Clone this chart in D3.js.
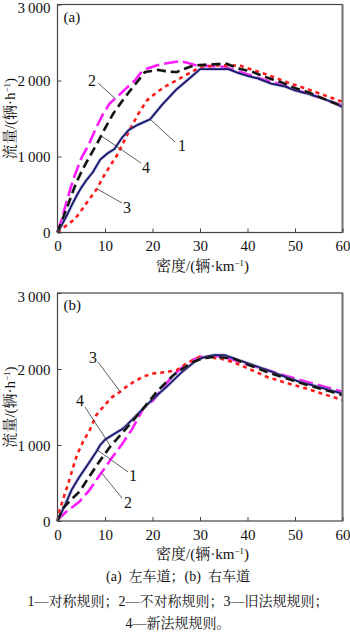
<!DOCTYPE html>
<html>
<head>
<meta charset="utf-8">
<script src="https://cdn.jsdelivr.net/npm/d3@7"></script>
<style>
  body { margin: 0; background: #fff; }
  svg { display: block; }
</style>
</head>
<body>
<div id="chart-area"></div>
<script>
// density (veh/km), flow (veh/h)
var xTicks = [0, 10, 20, 30, 40, 50, 60];
var yTicks = [0, 1000, 2000, 3000];

// (a) left lane
var aSym = [[0,0],[1,110],[2,230],[3,360],[4,480],[5,590],[6,680],[7.5,800],[9,960],[10.5,1040],[12,1100],[13.5,1240],[15,1350],[17,1420],[19.5,1490],[22,1680],[25,1880],[28,2040],[30,2150],[33,2150],[36,2150],[38,2100],[40,2060],[42,2030],[45,1960],[48,1920],[50,1870],[53,1820],[56,1760],[58,1710],[60,1650]];
var aAsym = [[0,0],[0.9,180],[1.9,400],[2.6,553],[3.8,780],[5.1,991],[6.5,1145],[8,1360],[9.6,1561],[11,1700],[12.5,1780],[14.5,1900],[16.3,2000],[17.5,2100],[18.8,2154],[21,2200],[23,2228],[25.8,2254],[27.5,2230],[29.3,2197],[32,2190],[35,2180],[38,2120],[41,2060],[44,2000],[47,1950],[50,1880],[53,1820],[56,1760],[60,1670]];
var aOld = [[0,0],[1.6,79],[3.7,180],[5,290],[6.5,421],[8.3,575],[9.6,728],[11,870],[12.5,1013],[14,1200],[15.3,1364],[17,1560],[18.8,1737],[21,1850],[23,1934],[25,2000],[26.8,2066],[28.5,2120],[30,2175],[34,2200],[38.4,2197],[41,2140],[44,2080],[48.3,1978],[52,1900],[56,1810],[60,1720]];
var aNew = [[0,0],[1.2,200],[2.3,377],[3,500],[4,662],[5.2,820],[6.5,970],[8.3,1167],[10,1370],[11.7,1561],[13.5,1720],[15.3,1868],[17,2000],[18.4,2110],[21.2,2140],[23,2120],[25.1,2110],[27,2160],[28.6,2197],[32,2210],[35.6,2220],[38,2160],[41.2,2110],[44,2040],[47,1980],[50,1900],[53,1840],[56,1760],[60,1660]];

// (b) right lane
var bSym = [[0,0],[0.5,63],[1.5,200],[3,413],[4.5,570],[6.1,718],[7.2,820],[8.2,915],[9,1000],[10,1070],[11.8,1140],[13.9,1220],[15.5,1320],[17.4,1439],[20,1600],[23,1767],[26,1950],[29.3,2117],[31,2160],[32.8,2182],[35.2,2182],[38,2120],[41.2,2051],[44,1990],[47,1920],[51,1832],[54,1780],[57,1730],[60,1675]];
var bAsym = [[0,0],[0.5,42],[2,130],[3.5,200],[4.7,260],[6.8,413],[8.5,570],[10,700],[11.4,828],[13.5,1003],[15.6,1199],[18.1,1483],[20.2,1592],[22,1740],[24.4,1920],[26.8,2051],[28.5,2120],[30,2160],[33.5,2170],[36,2140],[40,2060],[44,1990],[48,1910],[52,1840],[56,1770],[60,1700]];
var bOld = [[0,0],[0.5,151],[1.4,330],[2.3,501],[3.2,690],[4.1,871],[5.4,1046],[6.8,1199],[8.2,1396],[10,1530],[11.5,1630],[13.2,1701],[15,1790],[16.7,1855],[18.5,1910],[20.2,1942],[23,1960],[25.1,1986],[27.2,2073],[30,2160],[32,2150],[34.2,2139],[37,2090],[40,2010],[44,1898],[48,1820],[52,1750],[56,1670],[60,1592]];
var bNew = [[0,0],[1.2,173],[3,290],[4.7,391],[6.5,566],[8.6,763],[11.1,980],[13.9,1177],[16,1330],[18.1,1483],[20.9,1701],[24.4,1920],[26.5,2010],[28.6,2094],[30.5,2140],[32.8,2160],[35,2150],[37,2139],[40,2060],[44,1963],[48,1880],[52,1800],[56,1730],[60,1658]];

var FONT = '"Liberation Serif", "Noto Serif CJK SC"';

var margin = { left: 57.5, right: 7.5 },
    W = 350,
    width = W - margin.left - margin.right,
    height = 228;

var svg = d3.select("#chart-area")
    .append("svg")
    .attr("width", W)
    .attr("height", 639);

var x = d3.scaleLinear().domain([0, 60]).range([0, width]);
var y = d3.scaleLinear().domain([0, 3000]).range([height, 0]);
var line = d3.line().x(d => x(d[0])).y(d => y(d[1]));
var fmt = d => d === 0 ? "0" : d3.format(",")(d).replace(",", "\u2009");

function txt(sel, size) {
    return sel.style("font-family", FONT).style("font-size", size + "px").attr("fill", "#111");
}

function drawPanel(top, tag, series, notes) {
    var g = svg.append("g").attr("transform", "translate(" + margin.left + "," + top + ")");

    // series
    series.forEach(s => {
        if (s.halo) {
            g.append("path").datum(s.data).attr("d", line)
                .attr("fill", "none").attr("stroke", s.halo)
                .attr("stroke-width", 3.4).attr("stroke-dasharray", s.dash || null)
                .attr("stroke-opacity", 0.5);
        }
        g.append("path").datum(s.data).attr("d", line)
            .attr("fill", "none").attr("stroke", s.color)
            .attr("stroke-width", s.w).attr("stroke-dasharray", s.dash || null);
    });

    // frame
    g.append("rect").attr("width", width).attr("height", height)
        .attr("fill", "none").attr("stroke", "#444").attr("stroke-width", 1.2);
    g.append("line").attr("x1", width).attr("x2", width).attr("y1", 0).attr("y2", height)
        .attr("stroke", "#777").attr("stroke-width", 2);

    // axes, ticks inward
    var xa = g.append("g").attr("transform", "translate(0," + height + ")")
        .call(d3.axisBottom(x).tickValues(xTicks).tickSize(-4).tickPadding(8));
    xa.select(".domain").remove();
    xa.selectAll("line").attr("stroke", "#444");
    txt(xa.selectAll("text"), 15);

    var ya = g.append("g")
        .call(d3.axisLeft(y).tickValues(yTicks).tickSize(-4).tickPadding(7).tickFormat(fmt));
    ya.select(".domain").remove();
    ya.selectAll("line").attr("stroke", "#444");
    txt(ya.selectAll("text"), 15).attr("dy", d => d === 3000 ? "0.55em" : "0.35em");

    txt(g.append("text").attr("x", 6).attr("y", 17), 15).text(tag);

    // leader lines with numbers
    notes.forEach(n => {
        g.append("line")
            .attr("x1", x(n.from[0])).attr("y1", y(n.from[1]))
            .attr("x2", n.to[0] - margin.left).attr("y2", n.to[1] - top)
            .attr("stroke", "#333").attr("stroke-width", 0.8);
        txt(g.append("text").attr("x", n.pos[0] - margin.left).attr("y", n.pos[1] - top)
            .attr("text-anchor", "middle").attr("dy", "0.35em"), 16).text(n.label);
    });

    // axis titles
    var xt = txt(g.append("text").attr("x", 145).attr("y", height + 38)
        .attr("text-anchor", "middle"), 15);
    xt.append("tspan").text("密度/(辆·km");
    xt.append("tspan").attr("dy", -5).style("font-size", "9px").text("−1");
    xt.append("tspan").attr("dy", 5).text(")");

    var yt = txt(g.append("text").attr("transform", "translate(" + (15 - margin.left) + "," + (height / 2) + ") rotate(-90)")
        .attr("text-anchor", "middle"), 15);
    yt.append("tspan").text("流量/(辆·h");
    yt.append("tspan").attr("dy", -5).style("font-size", "9px").text("−1");
    yt.append("tspan").attr("dy", 5).text(")");
}

var styles = {
    asym: { color: "#ff1aff", w: 2.6, dash: "14,5" },
    old:  { color: "#ff1a1a", w: 2.6, dash: "4,4" },
    sym:  { color: "#15156b", w: 1.8, halo: "#8c8cc8" },
    neu:  { color: "#111", w: 2.4, dash: "9,5", halo: "#999" }
};
function set(sym, asym, old, neu) {
    return [
        Object.assign({ data: asym }, styles.asym),
        Object.assign({ data: old }, styles.old),
        Object.assign({ data: sym }, styles.sym),
        Object.assign({ data: neu }, styles.neu)
    ];
}

drawPanel(4.5, "(a)", set(aSym, aAsym, aOld, aNew), [
    { label: "2", from: [12.2, 1760], to: [98, 83], pos: [92, 80] },
    { label: "1", from: [19.5, 1490], to: [175, 142], pos: [182, 145] },
    { label: "4", from: [9, 1280], to: [141, 163], pos: [146, 167] },
    { label: "3", from: [8.3, 575], to: [122, 203], pos: [127, 207] }
]);

drawPanel(293, "(b)", set(bSym, bAsym, bOld, bNew), [
    { label: "3", from: [13.2, 1701], to: [98, 362], pos: [93, 357] },
    { label: "4", from: [11, 1000], to: [85, 407], pos: [80, 400] },
    { label: "1", from: [8.5, 930], to: [128, 472], pos: [133, 475] },
    { label: "2", from: [9.2, 640], to: [122, 498], pos: [128, 502] }
]);

// caption
var cap = [
    { t: "(a)  左车道；(b)  右车道", y: 581 },
    { t: "1—对称规则；2—不对称规则；3—旧法规规则；", y: 606 },
    { t: "4—新法规规则。", y: 628 }
];
txt(svg.selectAll(".cap").data(cap).enter().append("text")
    .attr("class", "cap")
    .attr("x", 178).attr("y", d => d.y)
    .attr("text-anchor", "middle"), 14)
    .attr("xml:space", "preserve")
    .text(d => d.t);
</script>
</body>
</html>
